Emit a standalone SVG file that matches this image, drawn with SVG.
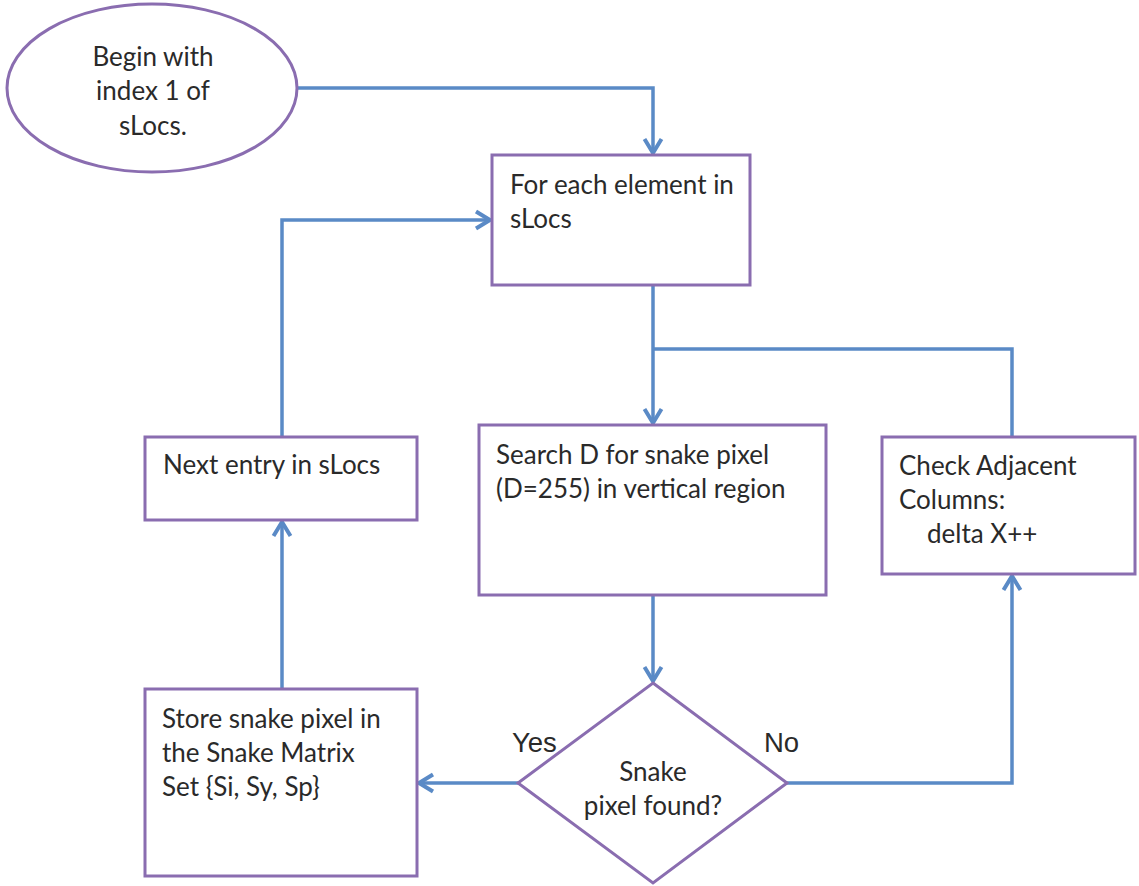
<svg xmlns="http://www.w3.org/2000/svg" width="1139" height="886" viewBox="0 0 1139 886">
<style>
.shape{fill:#ffffff;stroke:#8a6db0;stroke-width:3}
.t{font-family:Lato,"Open Sans","Liberation Sans",sans-serif;font-size:26px;fill:#2a2a2a}
.c{text-anchor:middle}
.lbl{font-family:"Liberation Sans",Arial,sans-serif;font-size:27.5px;fill:#2a2a2a}
.edge{fill:none;stroke:#5a8ac6;stroke-width:3.5}
</style>
<defs>
<marker id="arr" markerUnits="userSpaceOnUse" markerWidth="22" markerHeight="22" viewBox="0 0 22 22" refX="19" refY="11" orient="auto">
<path d="M5,2.5 L19,11 L5,19.5" fill="none" stroke="#5a8ac6" stroke-width="4" stroke-linejoin="miter"/>
</marker>
</defs>
<rect width="1139" height="886" fill="#ffffff"/>
<g id="connectors">
<path class="edge" d="M297,88 H653 V153" marker-end="url(#arr)"/>
<path class="edge" d="M653,285 V423" marker-end="url(#arr)"/>
<path class="edge" d="M653,349 H1012 V437"/>
<path class="edge" d="M653,595 V681" marker-end="url(#arr)"/>
<path class="edge" d="M518,783 H419" marker-end="url(#arr)"/>
<path class="edge" d="M787,783 H1012 V576" marker-end="url(#arr)"/>
<path class="edge" d="M282,689 V522" marker-end="url(#arr)"/>
<path class="edge" d="M282,437 V220 H490" marker-end="url(#arr)"/>
</g>
<g id="start">
<ellipse class="shape" cx="152" cy="88" rx="145" ry="84"/>
<text class="t c" x="153" y="66">Begin with</text>
<text class="t c" x="153" y="100">index 1 of</text>
<text class="t c" x="153" y="135">sLocs.</text>
</g>
<g id="for-each">
<rect class="shape" x="492" y="155" width="258" height="130"/>
<text class="t" x="510" y="194">For each element in</text>
<text class="t" x="510" y="228">sLocs</text>
</g>
<g id="next-entry">
<rect class="shape" x="145" y="437" width="272" height="83"/>
<text class="t" x="163" y="474">Next entry in sLocs</text>
</g>
<g id="search">
<rect class="shape" x="479" y="425" width="347" height="170"/>
<text class="t" x="496" y="464">Search D for snake pixel</text>
<text class="t" x="496" y="498">(D=255) in vertical region</text>
</g>
<g id="check">
<rect class="shape" x="882" y="437" width="253" height="137"/>
<text class="t" x="899" y="475">Check Adjacent</text>
<text class="t" x="899" y="509">Columns:</text>
<text class="t" x="927" y="543">delta X++</text>
</g>
<g id="decision">
<polygon class="shape" points="653,683 787,783 653,883 518,783"/>
<text class="t c" x="653" y="781">Snake</text>
<text class="t c" x="653" y="815">pixel found?</text>
</g>
<g id="store">
<rect class="shape" x="145" y="689" width="272" height="187"/>
<text class="t" x="162" y="728">Store snake pixel in</text>
<text class="t" x="162" y="762">the Snake Matrix</text>
<text class="t" x="162" y="796">Set {Si, Sy, Sp}</text>
</g>
<g id="labels">
<text class="lbl" x="512" y="752">Yes</text>
<text class="lbl" x="764" y="752">No</text>
</g>
</svg>
